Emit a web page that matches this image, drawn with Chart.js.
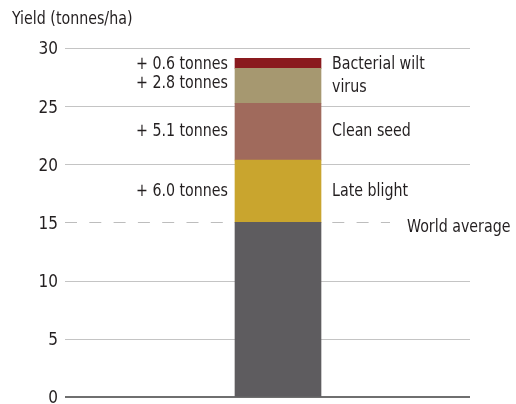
<!DOCTYPE html>
<html>
<head>
<meta charset="utf-8">
<script src="https://cdn.jsdelivr.net/npm/chart.js@4"></script>
<style>
  html, body { margin: 0; padding: 0; background: #fff; overflow: hidden; }
  #wrap { position: relative; width: 516px; height: 414px; }
</style>
</head>
<body>
<div id="wrap"><canvas id="c"></canvas></div>
<script>
// ---- data ----
const categories = ['Yield'];
const seriesNames = ['World average', 'Late blight', 'Clean seed', 'Virus', 'Bacterial wilt'];
const seriesValues = [15, 5.35, 4.9, 3.0, 0.87];
const gainLabels = ['', '+ 6.0 tonnes', '+ 5.1 tonnes', '+ 2.8 tonnes', '+ 0.6 tonnes'];
const yTicks = [0, 5, 10, 15, 20, 25, 30];
const axisTitle = 'Yield (tonnes/ha)';

const colors = ['#5e5c5f', '#c9a52e', '#a06a5c', '#a69870', '#8a1a1e'];
const FONT = "'DejaVu Sans Condensed', 'Liberation Sans Narrow', sans-serif";
const TEXT = '#231f20';
const SX = 0.93;

const datasets = seriesNames.map((name, i) => ({
  label: name,
  data: [seriesValues[i]],
  backgroundColor: colors[i],
  borderWidth: 0,
  barThickness: 86
}));

function text(ctx, s, x, y, align) {
  ctx.save();
  ctx.translate(x, y);
  ctx.scale(SX, 1);
  ctx.textAlign = align;
  ctx.fillText(s, 0, 0);
  ctx.restore();
}

const annotate = {
  id: 'annotate',
  beforeDatasetsDraw(chart) {
    const { ctx, chartArea, scales } = chart;
    const y = scales.y;
    const x0 = chartArea.left, x1 = 470;
    ctx.save();
    yTicks.forEach(v => {
      const py = Math.round(y.getPixelForValue(v));
      ctx.beginPath();
      if (v === 0) {
        ctx.strokeStyle = '#6f6f6f';
        ctx.lineWidth = 2;
        ctx.setLineDash([]);
        ctx.moveTo(x0, py);
        ctx.lineTo(x1, py);
      } else if (v === seriesValues[0]) {
        ctx.strokeStyle = '#bdbdbd';
        ctx.lineWidth = 1;
        ctx.setLineDash([12, 12.3]);
        ctx.moveTo(x0, py + 0.5);
        ctx.lineTo(390, py + 0.5);
      } else {
        ctx.strokeStyle = '#c4c4c4';
        ctx.lineWidth = 1;
        ctx.setLineDash([]);
        ctx.moveTo(x0, py + 0.5);
        ctx.lineTo(x1, py + 0.5);
      }
      ctx.stroke();
    });
    ctx.restore();
  },
  afterDatasetsDraw(chart) {
    const { ctx, scales } = chart;
    const y = scales.y;
    ctx.save();
    ctx.fillStyle = TEXT;
    ctx.font = '17px ' + FONT;
    ctx.textBaseline = 'middle';

    // axis title
    text(ctx, axisTitle, 12, 20, 'left');

    const el = i => chart.getDatasetMeta(i).data[0];
    const mid = i => (el(i).y + el(i).base) / 2;
    const leftX = el(0).x - el(0).width / 2 - 7;
    const rightX = el(0).x + el(0).width / 2 + 11;

    // gain labels (left)
    text(ctx, gainLabels[1], leftX, mid(1), 'right');
    text(ctx, gainLabels[2], leftX, mid(2), 'right');
    text(ctx, gainLabels[4], leftX, mid(4) + 1, 'right');
    text(ctx, gainLabels[3], leftX, mid(4) + 20, 'right');

    // cause labels (right)
    text(ctx, seriesNames[1], rightX, mid(1), 'left');
    text(ctx, seriesNames[2], rightX, mid(2), 'left');
    text(ctx, 'Bacterial wilt', rightX, mid(4) + 1, 'left');
    text(ctx, 'virus', rightX, mid(4) + 24, 'left');

    // world average
    text(ctx, seriesNames[0], 407, y.getPixelForValue(seriesValues[0]) + 5, 'left');
    ctx.restore();
  }
};

new Chart(document.getElementById('c'), {
  type: 'bar',
  data: { labels: categories, datasets },
  options: {
    responsive: true,
    maintainAspectRatio: false,
    animation: false,
    events: [],
    layout: { padding: { top: 48, right: 25, bottom: 10, left: 0 } },
    plugins: { legend: { display: false }, tooltip: { enabled: false } },
    scales: {
      x: { stacked: true, display: false },
      y: {
        stacked: true,
        min: 0, max: 30,
        afterBuildTicks(scale) { scale.ticks = yTicks.map(v => ({ value: v })); },
        afterFit(scale) { scale.width = 65; },
        grid: { display: false, drawTicks: false, tickLength: 0 },
        border: { display: false },
        ticks: {
          padding: 7,
          labelOffset: 2,
          color: TEXT,
          font: { family: FONT, size: 17 }
        }
      }
    }
  },
  plugins: [annotate]
});
</script>
</body>
</html>
